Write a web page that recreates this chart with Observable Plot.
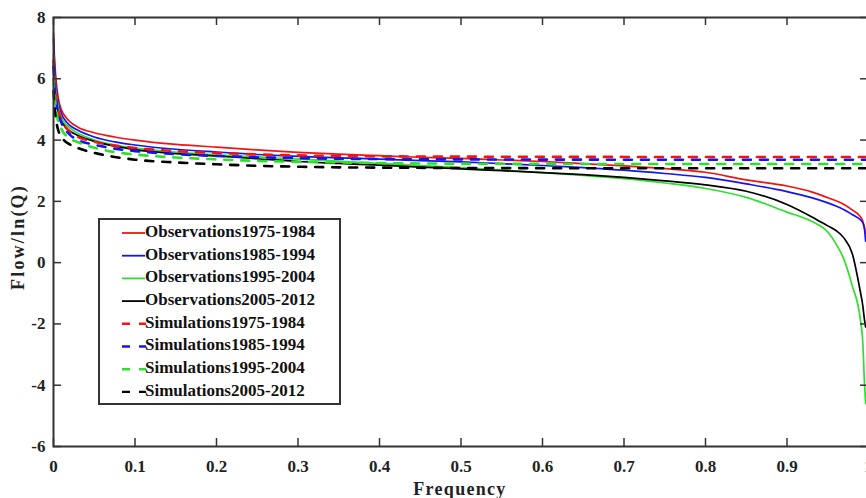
<!DOCTYPE html>
<html><head><meta charset="utf-8">
<script src="https://cdn.jsdelivr.net/npm/d3@7"></script>
<script src="https://cdn.jsdelivr.net/npm/@observablehq/plot@0.6"></script>
<style>
html,body{margin:0;padding:0;background:#fff;overflow:hidden}
#chart svg{display:block;font-family:"Liberation Serif","Times New Roman",serif;font-weight:bold}
</style></head><body><div id="chart"></div>
<script>
// ---- data ----
const freqObs = [0, 0.001, 0.003, 0.006, 0.01, 0.015, 0.02, 0.03, 0.05, 0.075, 0.1, 0.15, 0.2, 0.25, 0.3, 0.35, 0.4, 0.45, 0.5, 0.55, 0.6, 0.65, 0.7, 0.75, 0.8, 0.85, 0.9, 0.93, 0.95, 0.96, 0.97, 0.98, 0.99, 0.993, 0.995, 0.9965];
const obs1975 = [7.5, 6.8, 6.0, 5.35, 4.97, 4.75, 4.6, 4.42, 4.24, 4.1, 4.0, 3.86, 3.77, 3.68, 3.6, 3.54, 3.49, 3.44, 3.4, 3.35, 3.3, 3.23, 3.16, 3.07, 2.95, 2.7, 2.5, 2.31, 2.12, 2.02, 1.9, 1.72, 1.5, 1.35, 1.15, 0.95];
const obs1985 = [7.3, 6.6, 5.8, 5.2, 4.84, 4.62, 4.48, 4.32, 4.1, 3.94, 3.84, 3.7, 3.61, 3.53, 3.47, 3.42, 3.38, 3.33, 3.29, 3.23, 3.17, 3.1, 3.02, 2.91, 2.78, 2.57, 2.32, 2.12, 1.95, 1.85, 1.73, 1.57, 1.4, 1.3, 1.1, 0.7];
const obs1995 = [6.8, 6.2, 5.6, 5.05, 4.72, 4.52, 4.4, 4.22, 4.0, 3.84, 3.74, 3.61, 3.52, 3.45, 3.38, 3.31, 3.24, 3.17, 3.1, 3.02, 2.94, 2.85, 2.74, 2.6, 2.42, 2.13, 1.65, 1.35, 1.0, 0.62, 0.1, -0.75, -1.85, -2.6, -3.9, -4.6];
const obs2005 = [6.4, 5.9, 5.35, 4.88, 4.6, 4.42, 4.3, 4.15, 3.96, 3.8, 3.69, 3.56, 3.48, 3.39, 3.3, 3.24, 3.18, 3.12, 3.06, 3.0, 2.94, 2.87, 2.78, 2.67, 2.54, 2.33, 1.9, 1.5, 1.2, 1.05, 0.8, 0.3, -0.95, -1.4, -1.85, -2.1];

const freqSim = [0, 0.002, 0.005, 0.01, 0.02, 0.03, 0.05, 0.075, 0.1, 0.15, 0.2, 0.25, 0.3, 0.35, 0.4, 0.5, 0.7, 1.0];
const sim1975 = [6.6, 5.8, 5.1, 4.65, 4.28, 4.1, 3.95, 3.82, 3.74, 3.64, 3.58, 3.53, 3.5, 3.48, 3.47, 3.46, 3.45, 3.45];
const sim1985 = [6.4, 5.6, 4.95, 4.55, 4.18, 4.0, 3.85, 3.72, 3.64, 3.54, 3.48, 3.44, 3.41, 3.39, 3.38, 3.37, 3.36, 3.36];
const sim1995 = [6.0, 5.3, 4.7, 4.35, 4.05, 3.93, 3.75, 3.61, 3.53, 3.43, 3.37, 3.32, 3.29, 3.27, 3.25, 3.23, 3.22, 3.22];
const sim2005 = [5.6, 4.9, 4.4, 4.1, 3.86, 3.74, 3.58, 3.45, 3.36, 3.27, 3.21, 3.16, 3.13, 3.11, 3.1, 3.09, 3.08, 3.08];

const seriesNames = ["Observations1975-1984", "Observations1985-1994", "Observations1995-2004", "Observations2005-2012",
                     "Simulations1975-1984", "Simulations1985-1994", "Simulations1995-2004", "Simulations2005-2012"];
const seriesColors = ["#f21414", "#1414f0", "#2ee02e", "#000000", "#f21414", "#1414f0", "#2ee02e", "#000000"];
const xTicks = [0, 0.1, 0.2, 0.3, 0.4, 0.5, 0.6, 0.7, 0.8, 0.9, 1];
const yTicks = [-6, -4, -2, 0, 2, 4, 6, 8];

// ---- build tables ----
const obsSeries = [obs1975, obs1985, obs1995, obs2005];
const simSeries = [sim1975, sim1985, sim1995, sim2005];
const toRows = (freqs, vals) => freqs.map((f, i) => ({f, v: vals[i]}));

const W = 866, H = 498;
const mL = 53, mR = -2, mT = 17, mB = 52;
const innerW = W - mL - mR, innerH = H - mT - mB;
const tickLen = 8;

const marks = [];
obsSeries.forEach((vals, i) => {
  marks.push(Plot.line(toRows(freqObs, vals), {x: "f", y: "v", stroke: seriesColors[i], strokeWidth: 1.7, curve: "monotone-x"}));
});
simSeries.forEach((vals, i) => {
  marks.push(Plot.line(toRows(freqSim, vals), {x: "f", y: "v", stroke: seriesColors[i + 4], strokeWidth: 2.6, strokeDasharray: "8,9", curve: "monotone-x"}));
});

const axisColor = "#333";
const svg = Plot.plot({
  width: W, height: H,
  marginLeft: mL, marginRight: mR, marginTop: mT, marginBottom: mB,
  style: {fontFamily: '"Liberation Serif","Times New Roman",serif', fontSize: "17px", fontWeight: "bold", color: "#222", background: "#fff"},
  x: {domain: [0, 1]},
  y: {domain: [-6, 8]},
  marks: [
    ...marks,
    // inward ticks on all four sides (MATLAB box)
    Plot.tickY(yTicks, {y: d => d, insetRight: innerW - tickLen, stroke: axisColor, strokeWidth: 1.5}),
    Plot.tickY(yTicks, {y: d => d, insetLeft: innerW - tickLen, stroke: axisColor, strokeWidth: 1.5}),
    Plot.tickX(xTicks, {x: d => d, insetTop: innerH - tickLen, stroke: axisColor, strokeWidth: 1.5}),
    Plot.tickX(xTicks, {x: d => d, insetBottom: innerH - tickLen, stroke: axisColor, strokeWidth: 1.5}),
    Plot.frame({stroke: axisColor, strokeWidth: 2}),
    Plot.axisY(yTicks, {tickSize: 0, tickPadding: 8, label: null, fontSize: 17, fill: "#222", tickFormat: d => String(d)}),
    Plot.axisX(xTicks, {tickSize: 0, tickPadding: 13, label: null, fontSize: 17, fill: "#222",
      tickFormat: d => (d === 0 || d === 1) ? String(d) : d.toFixed(1)})
  ]
});
document.getElementById("chart").appendChild(svg);

const s = d3.select(svg);
// axis titles
s.append("text").attr("transform", "translate(20,237) rotate(-90)")
  .attr("text-anchor", "middle").attr("dominant-baseline", "middle")
  .style("font-size", "18px").style("letter-spacing", "2.2px").attr("fill", "#222")
  .text("Flow/ln(Q)");
s.append("text").attr("x", 460).attr("y", 495)
  .attr("text-anchor", "middle")
  .style("font-size", "18px").style("letter-spacing", "1.3px").attr("fill", "#222")
  .text("Frequency");

// legend
const lg = s.append("g").attr("text-anchor", "start");
lg.append("rect").attr("x", 99).attr("y", 219).attr("width", 241).attr("height", 185)
  .attr("fill", "#fff").attr("stroke", axisColor).attr("stroke-width", 2);
seriesNames.forEach((name, i) => {
  const yy = 233 + i * 22.7;
  const dashed = i >= 4;
  lg.append("line").attr("x1", 122).attr("x2", dashed ? 146 : 145).attr("y1", yy).attr("y2", yy)
    .attr("stroke", seriesColors[i]).attr("stroke-width", dashed ? 2.4 : 1.8)
    .attr("stroke-dasharray", dashed ? "8,9" : null);
  lg.append("text").attr("x", 145).attr("y", yy).attr("dominant-baseline", "middle")
    .attr("text-anchor", "start")
    .attr("fill", "#111").style("font-size", "17px").text(name);
});
</script></body></html>
